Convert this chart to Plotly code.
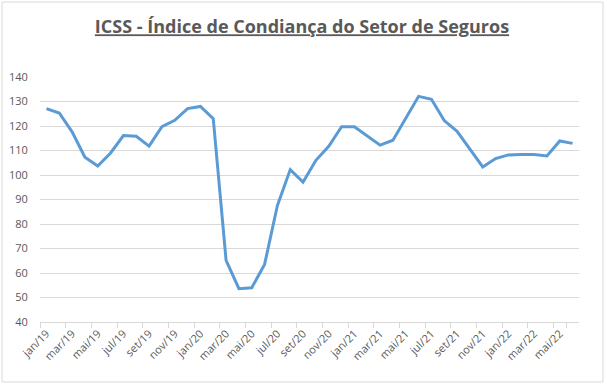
import plotly.graph_objects as go

months = ["jan", "fev", "mar", "abr", "mai", "jun", "jul", "ago", "set", "out", "nov", "dez"]
categories = [f"{m}/{y}" for y in ["19", "20", "21"] for m in months] + [f"{m}/22" for m in months[:6]]

icss = [127.1, 125.3, 117.6, 107.3, 103.7, 109.0, 116.1, 115.8, 111.8, 119.7, 122.3, 127.1,
        128.0, 123.0, 65.2, 53.6, 54.0, 63.5, 87.6, 102.2, 97.1, 106.0, 111.7, 119.7,
        119.7, 115.9, 112.2, 114.2, 123.0, 132.1, 130.9, 122.2, 117.8, 110.4, 103.3, 106.7,
        108.2, 108.4, 108.4, 107.8, 113.9, 112.9]

tick_labels = categories[::2]
y_ticks = [40, 50, 60, 70, 80, 90, 100, 110, 120, 130, 140]

title_text = "ICSS - Índice de Condiança do Setor de Seguros"

fig = go.Figure()
fig.add_trace(go.Scatter(
    x=categories, y=icss, mode="lines",
    line=dict(color="#5b9bd5", width=3),
    hoverinfo="x+y",
))

W, H = 607, 386
ml, mr, mt, mb = 40, 28, 77, 64
pw, ph = W - ml - mr, H - mt - mb

fig.update_layout(
    width=W, height=H,
    margin=dict(l=ml, r=mr, t=mt, b=mb),
    paper_bgcolor="white", plot_bgcolor="white",
    showlegend=False,
    font=dict(family="Open Sans", color="#595959", size=11),
    title=dict(
        text=f"<b><u>{title_text}</u></b>",
        x=302 / W, xanchor="center", xref="container",
        y=1 - 27 / H, yanchor="middle", yref="container",
        font=dict(family="Open Sans", size=18, color="#595959"),
    ),
    xaxis=dict(
        type="category", automargin=False,
        tickmode="array", tickvals=tick_labels, ticktext=tick_labels,
        tickangle=-45, tickson="boundaries",
        ticks="outside", ticklen=5, tickcolor="#d9d9d9",
        showline=True, linecolor="#d9d9d9", linewidth=1,
        showgrid=False, zeroline=False,
        range=[-0.5, len(categories) - 0.5],
        tickfont=dict(size=11, color="#595959"),
    ),
    yaxis=dict(
        range=[40, 140], tickvals=y_ticks, automargin=False,
        showgrid=True, gridcolor="#d9d9d9", gridwidth=1,
        zeroline=False, showline=False,
        ticks="outside", ticklen=9, tickcolor="rgba(0,0,0,0)",
        tickfont=dict(size=11, color="#595959"),
    ),
    shapes=[dict(
        type="rect", xref="paper", yref="paper",
        x0=(2 - ml) / pw, x1=(603 - ml) / pw,
        y0=(H - 382 - mb) / ph,
        y1=(H - 2 - mb) / ph,
        line=dict(color="#d9d9d9", width=1), fillcolor="rgba(0,0,0,0)",
        layer="below",
    )],
)

fig.write_html("out.html", config={"displayModeBar": False},
               post_script="document.body.style.margin='0';")
